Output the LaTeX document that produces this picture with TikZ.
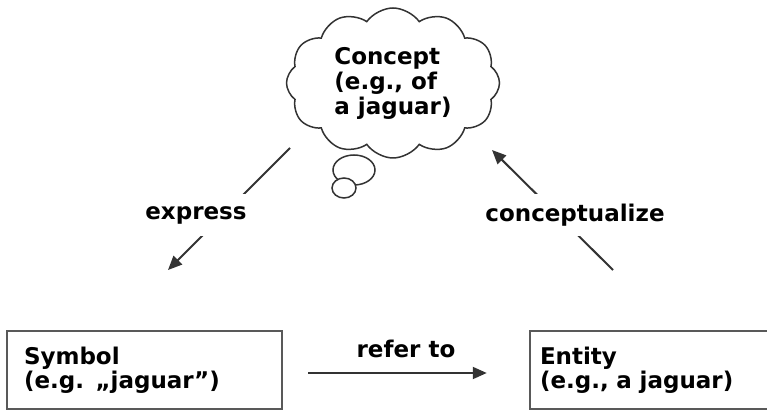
\documentclass[tikz,border=0pt]{standalone}
\usepackage{fontspec}
\setmainfont{DejaVu Sans}
\usetikzlibrary{positioning, shapes.symbols, arrows.meta}

\tikzset{
    label font/.style={font=\fontsize{23}{24}\selectfont\bfseries},
    thing/.style={draw=black!65, line width=2.5pt, fill=white, minimum height=78,
        align=left, label font},
    link/.style={draw=black!80, line width=2pt, -{Triangle[length=14pt, width=12pt]}},
    tag/.style={fill=white, minimum height=42, inner xsep=10pt, label font}
}

\begin{document}
\begin{tikzpicture}[x=1pt, y=-1pt]
    \useasboundingbox (0,0) rectangle (767,411);

    % concept cloud
    \node[cloud, cloud puffs=12, cloud puff arc=110, aspect=1.42, draw=black!80, line width=1.5pt,
        minimum width=213, minimum height=150, inner sep=0pt, align=left,
        font=\fontsize{23}{25}\selectfont\bfseries] (concept) at (393,83)
        {Concept\\(e.g., of\\a jaguar)};
    \draw[black!80, line width=1.5pt, fill=white] (354,170) ellipse [x radius=21, y radius=15];
    \draw[black!80, line width=1.5pt, fill=white] (344,188) ellipse [x radius=12, y radius=10];

    % symbol and entity
    \node[thing, minimum width=275, text width=241, inner xsep=17pt] (symbol) at (144.5,370)
        {Symbol\\(e.g. „jaguar\symbol{34})};
    \node[thing, minimum width=238, text width=218, inner xsep=10pt] (entity) at (649,370)
        {Entity\\(e.g., a jaguar)};

    % express
    \coordinate (express tail) at (290,148);
    \coordinate (express head) at (168,270);
    \draw[link] (express tail) -- (express head);
    \node[tag] (express) at (196,215) {express};

    % conceptualize
    \coordinate (conceptualize tail) at (613,270);
    \coordinate (conceptualize head) at (492,150);
    \draw[link] (conceptualize tail) -- (conceptualize head);
    \node[tag] (conceptualize) at (575,215) {conceptualize};

    % refer to
    \draw[link, shorten <=25pt, shorten >=42pt] ([yshift=-3pt]symbol.east) -- ([yshift=-3pt]entity.west)
        node[midway, above=11pt, label font] (refer) {refer to};
\end{tikzpicture}
\end{document}
